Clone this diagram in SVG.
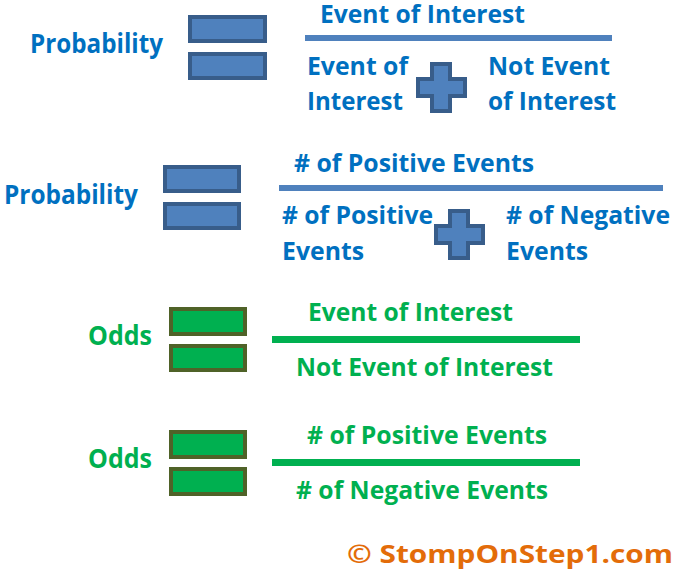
<svg xmlns="http://www.w3.org/2000/svg" width="680" height="576" viewBox="0 0 680 576">
<style>
text{font-family:"Open Sans","Liberation Sans",sans-serif;font-weight:bold;font-size:25px}
.p{font-size:26.5px}
.b{fill:#0070C0}
.g{fill:#00B050}
.o{fill:#E36C09}
.bq{fill:#4F81BD;stroke:#385D8A;stroke-width:4}
.gq{fill:#00B050;stroke:#4F6228;stroke-width:4}
.bl{stroke:#4F81BD;stroke-width:6}
.gl{stroke:#00B050;stroke-width:7}
</style>
<rect width="680" height="576" fill="#fff"/>
<g id="row1">
<text class="b p" x="30" y="53" textLength="133" lengthAdjust="spacingAndGlyphs">Probability</text>
<rect class="bq" x="190" y="17" width="75" height="24"/>
<rect class="bq" x="190" y="54" width="75" height="24"/>
<text class="b" x="320" y="22.5" textLength="205" lengthAdjust="spacingAndGlyphs">Event of Interest</text>
<line class="bl" x1="305" y1="38" x2="612" y2="38"/>
<text class="b" x="307" y="75" textLength="101" lengthAdjust="spacingAndGlyphs">Event of</text>
<text class="b" x="307" y="110" textLength="96" lengthAdjust="spacingAndGlyphs">Interest</text>
<path class="bq" d="M432,64H450V79H465V96H450V111H432V96H418V79H432Z"/>
<text class="b" x="488" y="75" textLength="122" lengthAdjust="spacingAndGlyphs">Not Event</text>
<text class="b" x="488" y="110" textLength="128" lengthAdjust="spacingAndGlyphs">of Interest</text>
</g>
<g id="row2">
<text class="b p" x="4" y="204" textLength="134" lengthAdjust="spacingAndGlyphs">Probability</text>
<rect class="bq" x="165" y="167" width="74" height="24"/>
<rect class="bq" x="165" y="204" width="74" height="24"/>
<text class="b" x="294" y="172" textLength="240" lengthAdjust="spacingAndGlyphs"># of Positive Events</text>
<line class="bl" x1="279" y1="188" x2="663" y2="188"/>
<text class="b" x="282" y="224" textLength="151" lengthAdjust="spacingAndGlyphs"># of Positive</text>
<text class="b" x="282" y="260" textLength="82" lengthAdjust="spacingAndGlyphs">Events</text>
<path class="bq" d="M450,211H468V226H483V243H468V258H450V243H436V226H450Z"/>
<text class="b" x="506" y="224" textLength="164" lengthAdjust="spacingAndGlyphs"># of Negative</text>
<text class="b" x="506" y="260" textLength="82" lengthAdjust="spacingAndGlyphs">Events</text>
</g>
<g id="row3">
<text class="g p" x="88" y="345" textLength="64" lengthAdjust="spacingAndGlyphs">Odds</text>
<rect class="gq" x="171" y="309" width="74" height="25"/>
<rect class="gq" x="171" y="346" width="74" height="24"/>
<text class="g" x="308" y="321" textLength="205" lengthAdjust="spacingAndGlyphs">Event of Interest</text>
<line class="gl" x1="272" y1="339.5" x2="580" y2="339.5"/>
<text class="g" x="296" y="376" textLength="257" lengthAdjust="spacingAndGlyphs">Not Event of Interest</text>
</g>
<g id="row4">
<text class="g p" x="88" y="468" textLength="64" lengthAdjust="spacingAndGlyphs">Odds</text>
<rect class="gq" x="171" y="432" width="74" height="25"/>
<rect class="gq" x="171" y="469" width="74" height="25"/>
<text class="g" x="307" y="444" textLength="240" lengthAdjust="spacingAndGlyphs"># of Positive Events</text>
<line class="gl" x1="272" y1="462.5" x2="580" y2="462.5"/>
<text class="g" x="296" y="499" textLength="252" lengthAdjust="spacingAndGlyphs"># of Negative Events</text>
</g>
<g id="connectors"/>
<text class="o" x="347" y="563" textLength="326" lengthAdjust="spacingAndGlyphs">© StompOnStep1.com</text>
</svg>
